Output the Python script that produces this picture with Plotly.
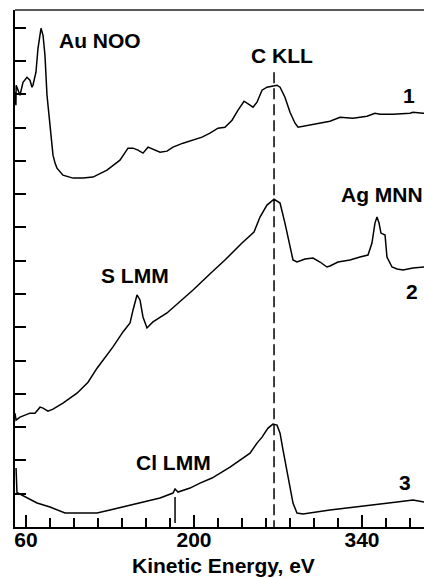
import plotly.graph_objects as go

# Kinetic energy (eV) and intensity (arb. units)
e1 = [50.8, 51.6, 51.8, 55.0, 57.5, 60.8, 63.3, 65.0, 65.8, 68.3, 70.0, 72.5, 74.2, 75.8, 77.5,
      80.0, 82.5, 84.2, 85.8, 90.8, 99.2, 107.5, 115.8, 127.5, 138.3, 145.0, 149.2, 153.3, 157.5,
      161.7, 165.8, 171.7, 177.5, 182.5, 190.8, 199.2, 206.7, 213.3, 220.0, 225.8, 231.7, 236.7,
      241.7, 246.7, 249.2, 252.5, 256.7, 260.8, 265.8, 269.2, 271.7, 275.8, 280.0, 284.2, 286.7,
      299.2, 313.3, 321.7, 332.5, 344.2, 350.8, 355.0, 365.8, 380.0, 382.5, 390.8, 391.7]
i1 = [13.06, 12.67, 13.27, 12.97, 13.36, 13.51, 13.42, 13.21, 13.27, 13.66, 14.38, 14.98, 14.77,
      14.17, 12.97, 12.07, 11.17, 10.93, 10.78, 10.57, 10.48, 10.48, 10.51, 10.72, 11.02, 11.38,
      11.38, 11.32, 11.23, 11.41, 11.35, 11.26, 11.29, 11.41, 11.53, 11.62, 11.71, 11.83, 11.98,
      12.01, 12.22, 12.52, 12.79, 12.67, 12.61, 12.76, 13.12, 13.21, 13.24, 13.27, 13.21, 12.91,
      12.46, 12.13, 12.01, 12.10, 12.19, 12.31, 12.28, 12.34, 12.43, 12.40, 12.40, 12.43, 12.46,
      12.43, 12.43]

e2 = [50.8, 51.7, 55.0, 63.3, 67.5, 71.7, 74.2, 78.3, 82.5, 90.8, 102.5, 111.7, 119.2, 132.5,
      140.8, 146.7, 149.2, 152.5, 155.0, 157.5, 160.8, 165.8, 177.5, 188.3, 199.2, 215.0, 225.8,
      240.0, 250.0, 255.0, 260.8, 266.7, 271.7, 275.8, 280.0, 282.5, 285.8, 292.5, 299.2, 305.0,
      310.8, 313.3, 320.0, 330.0, 338.3, 345.0, 348.3, 350.8, 352.5, 354.2, 355.8, 359.2, 360.8,
      365.0, 369.2, 374.2, 382.5, 391.7]
i2 = [3.42, 3.21, 3.30, 3.42, 3.42, 3.60, 3.57, 3.48, 3.54, 3.72, 4.02, 4.35, 4.77, 5.41, 5.86,
      6.13, 6.52, 6.97, 6.82, 6.31, 5.98, 6.16, 6.43, 6.76, 7.12, 7.66, 8.02, 8.53, 8.86, 9.31,
      9.67, 9.85, 9.73, 9.13, 8.41, 8.02, 7.96, 8.05, 8.08, 7.96, 7.81, 7.84, 7.96, 8.02, 8.11,
      8.17, 8.53, 9.13, 9.31, 9.13, 8.83, 8.77, 8.11, 7.81, 7.75, 7.72, 7.78, 7.81]

e3 = [51.7, 52.5, 53.3, 60.8, 69.2, 80.0, 92.5, 102.5, 119.2, 130.0, 144.2, 157.5, 171.7, 182.5,
      184.2, 186.7, 196.7, 205.0, 215.0, 230.0, 238.3, 246.7, 252.5, 256.7, 261.7, 265.8, 269.2,
      271.7, 274.2, 278.3, 282.5, 285.8, 290.8, 313.3, 335.8, 355.0, 369.2, 382.5, 390.8, 391.7]
i3 = [1.77, 1.02, 1.02, 0.87, 0.72, 0.60, 0.42, 0.42, 0.42, 0.51, 0.63, 0.75, 0.87, 1.02, 1.14,
      1.05, 1.17, 1.32, 1.47, 1.80, 2.01, 2.22, 2.52, 2.70, 2.97, 3.09, 3.06, 2.82, 2.31, 1.50,
      0.72, 0.42, 0.39, 0.51, 0.60, 0.69, 0.75, 0.81, 0.75, 0.75]

c_kll_energy = 266.7
cl_lmm_energy = 184.2

peak_labels = ["Au NOO", "C KLL", "S LMM", "Cl LMM", "Ag MNN"]
peak_label_e = [121.7, 273.3, 150.8, 182.5, 356.5]
peak_label_i = [14.62, 14.17, 7.54, 1.95, 10.0]

curve_labels = ["1", "2", "3"]
curve_label_e = [379.2, 381.7, 375.8]
curve_label_i = [12.97, 7.06, 1.35]

major_ticks = [60, 200, 340]

FONT = "Liberation Sans, Arial, sans-serif"

fig = go.Figure()
for e, i in [(e1, i1), (e2, i2), (e3, i3)]:
    fig.add_trace(go.Scatter(x=e, y=i, mode="lines",
                             line=dict(color="black", width=1.5),
                             showlegend=False, hoverinfo="skip"))

# dashed C KLL marker
fig.add_trace(go.Scatter(x=[c_kll_energy, c_kll_energy], y=[13.66, 0], mode="lines",
                         line=dict(color="black", width=1.5, dash="11px,5px"),
                         showlegend=False, hoverinfo="skip"))
# Cl LMM marker
fig.add_trace(go.Scatter(x=[cl_lmm_energy, cl_lmm_energy], y=[0.9, 0.12], mode="lines",
                         line=dict(color="black", width=1.5),
                         showlegend=False, hoverinfo="skip"))

annotations = []
for t, x, y in zip(peak_labels + curve_labels, peak_label_e + curve_label_e,
                   peak_label_i + curve_label_i):
    annotations.append(dict(x=x, y=y, xref="x", yref="y", text="<b>%s</b>" % t,
                            showarrow=False, font=dict(family=FONT, size=21, color="black"),
                            xanchor="center", yanchor="middle"))
annotations.append(dict(x=0.5, y=0, xref="paper", yref="paper", text="<b>Kinetic Energy, eV</b>",
                        showarrow=False, font=dict(family=FONT, size=21, color="black"),
                        xanchor="center", yanchor="middle", yshift=-38, xshift=4))

fig.update_layout(
    width=424, height=578,
    margin=dict(l=15, r=0, t=10, b=51),
    paper_bgcolor="white", plot_bgcolor="white",
    annotations=annotations,
    shapes=[dict(type="line", xref="paper", yref="paper", x0=0, x1=1, y0=1, y1=1,
                 line=dict(color="#222", width=1.5))],
    xaxis=dict(range=[50.83, 391.67], showgrid=False, zeroline=False,
               showline=True, linecolor="black", linewidth=2,
               ticks="inside", tickvals=major_ticks, ticktext=[str(v) for v in major_ticks],
               ticklen=12, tickwidth=1.5, tickcolor="black", ticklabelstandoff=-7,
               minor=dict(ticks="inside", dtick=20, tick0=60, ticklen=9, tickwidth=1.5,
                          tickcolor="black", showgrid=False),
               tickfont=dict(family=FONT, size=21, color="black", weight="bold")),
    yaxis=dict(range=[0, 15.53], showgrid=False, zeroline=False,
               showline=True, linecolor="black", linewidth=2,
               ticks="inside", dtick=1, tick0=0, ticklen=11, tickwidth=1.5, tickcolor="black",
               showticklabels=False),
)

fig.write_html("out.html")
